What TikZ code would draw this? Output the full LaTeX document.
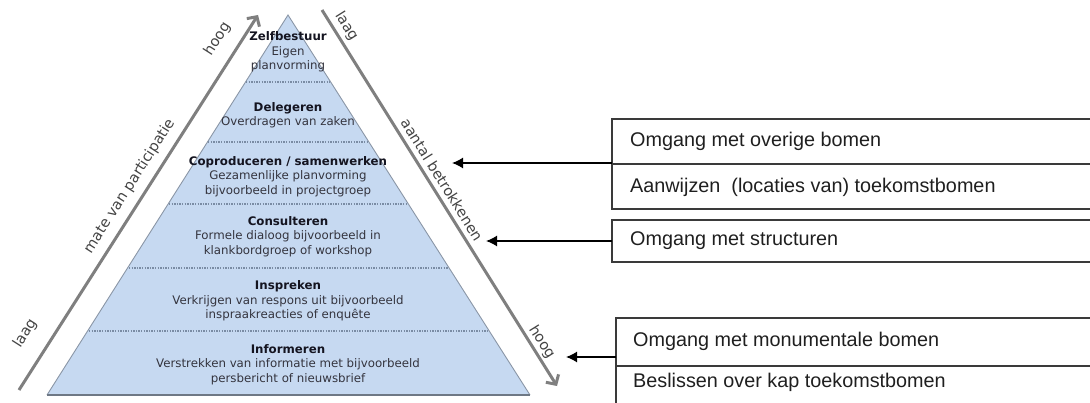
\documentclass[tikz,border=0pt]{standalone}
\usepackage{fontspec}
\setmainfont{DejaVu Sans}
\newfontfamily\boxfont{Liberation Sans}
\usetikzlibrary{arrows.meta}
\definecolor{pyrfill}{HTML}{C6D9F1}
\definecolor{pyredge}{HTML}{8A96A6}
\definecolor{dotcol}{HTML}{7A8CA4}
\definecolor{axiscol}{HTML}{7F7F7F}
\definecolor{labcol}{HTML}{444444}
\definecolor{titlecol}{HTML}{141420}
\definecolor{bodycol}{HTML}{34343E}
\definecolor{boxline}{HTML}{3A3A3A}
\tikzset{
  pyrtext/.style={align=center, inner sep=0pt, text=bodycol,
    font=\fontsize{11.8}{14.5}\selectfont},
  divider/.style={dotcol, line width=1.1pt, dash pattern=on 1.4pt off 1.2pt},
  axis/.style={axiscol, line width=3pt},
  axislab/.style={text=labcol, inner sep=0pt, font=\fontsize{14.5}{16}\selectfont},
  boxedge/.style={boxline, line width=1.6pt},
  boxtext/.style={anchor=west, inner sep=0pt, text=black!88,
    font=\boxfont\fontsize{19.8}{22}\selectfont},
  pointer/.style={black, line width=1.5pt, -{Latex[length=11pt,width=11pt]}}
}
\newcommand{\ttl}[1]{\textbf{\color{titlecol}#1}}
\begin{document}
\begin{tikzpicture}[x=1pt,y=-1pt]
\useasboundingbox (0,0) rectangle (1090,403);
% pyramid
\coordinate (apex) at (288,15);
\coordinate (bl) at (47,395);
\coordinate (br) at (530,395);
\fill[pyrfill] (apex) -- (br) -- (bl) -- cycle;
\draw[pyredge, line width=0.9pt] (bl) -- (apex) -- (br);
\draw[pyredge!80!black, line width=1.1pt] (bl) -- (br);
% dotted dividers
\draw[divider] (246,82) -- (330,82);
\draw[divider] (208,142) -- (368,142);
\draw[divider] (169,204) -- (407,204);
\draw[divider] (129,268) -- (448,268);
\draw[divider] (89,331) -- (488,331);
% pyramid texts
\node[pyrtext] (zelf) at (288,52) {\ttl{Zelfbestuur}\\Eigen\\planvorming};
\node[pyrtext] (dele) at (288,115) {\ttl{Delegeren}\\Overdragen van zaken};
\node[pyrtext] (copr) at (288,176.5) {\ttl{Coproduceren / samenwerken}\\Gezamenlijke planvorming\\bijvoorbeeld in projectgroep};
\node[pyrtext] (cons) at (288,236.5) {\ttl{Consulteren}\\Formele dialoog bijvoorbeeld in\\klankbordgroep of workshop};
\node[pyrtext] (insp) at (288,301) {\ttl{Inspreken}\\Verkrijgen van respons uit bijvoorbeeld\\inspraakreacties of enquête};
\node[pyrtext] (info) at (288,364.5) {\ttl{Informeren}\\Verstrekken van informatie met bijvoorbeeld\\persbericht of nieuwsbrief};
% axes
\coordinate (la) at (19,390);
\coordinate (lb) at (258,15);
\coordinate (ra) at (322,10);
\coordinate (rb) at (557,386);
\draw[axis, -{Straight Barb[length=7pt,width=15pt]}] (la) -- (lb);
\draw[axis, -{Straight Barb[length=7pt,width=15pt]}] (ra) -- (rb);
\path (la) -- (lb)
  node[axislab, pos=0.905, sloped, above=14pt] (lhoog) {hoog}
  node[axislab, pos=0.52, sloped, above=9pt] (lmate) {mate van participatie}
  node[axislab, pos=0.115, sloped, above=18pt] (llaag) {laag};
\path (ra) -- (rb)
  node[axislab, pos=0.06, sloped, above=5pt] (rlaag) {laag}
  node[axislab, pos=0.468, sloped, above=6pt] (raant) {aantal betrokkenen}
  node[axislab, pos=0.898, sloped, above=3pt] (rhoog) {hoog};
% boxes
\draw[boxedge] (1095,119) -- (612,119) -- (612,209) -- (1095,209);
\draw[boxedge] (612,164) -- (1095,164);
\draw[boxedge] (1095,220) -- (612,220) -- (612,262) -- (1095,262);
\draw[boxedge] (1095,318) -- (616,318) -- (616,410);
\draw[boxedge] (616,366) -- (1095,366);
\node[boxtext] (t1) at (630,141) {Omgang met overige bomen};
\node[boxtext] (t2) at (630,187) {Aanwijzen\ \ (locaties van) toekomstbomen};
\node[boxtext] (t3) at (630,241) {Omgang met structuren};
\node[boxtext] (t4) at (633,341) {Omgang met monumentale bomen};
\node[boxtext] (t5) at (633,382) {Beslissen over kap toekomstbomen};
% pointers
\coordinate (b1) at (612,163);
\coordinate (p1) at (452,163);
\coordinate (b2) at (612,241);
\coordinate (p2) at (486,241);
\coordinate (b3) at (616,357);
\coordinate (p3) at (566,357);
\draw[pointer] (b1) -- (p1);
\draw[pointer] (b2) -- (p2);
\draw[pointer] (b3) -- (p3);
\end{tikzpicture}
\end{document}
